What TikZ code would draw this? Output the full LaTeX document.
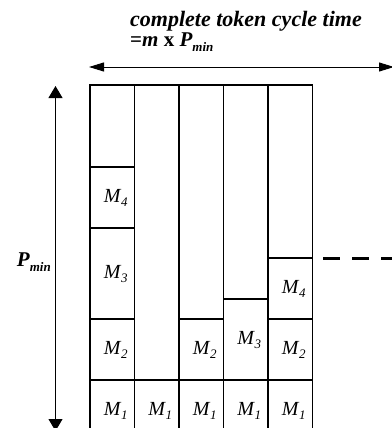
\documentclass[tikz,border=0pt]{standalone}
\usepackage{fontspec}
\setmainfont{Liberation Serif}
\usetikzlibrary{arrows.meta}
% message label with a lowered subscript
\newcommand{\msg}[1]{\textit{M}\kern-0.5pt\raisebox{-0.5ex}{\fontsize{13}{13}\selectfont\textit{#1}}}
\newcommand{\pmin}{\textbf{\textit{P}\raisebox{-0.5ex}{\fontsize{13}{13}\selectfont\textit{min}}}}

\begin{document}
\begin{tikzpicture}[x=1pt,y=-1pt,
  slot/.style={line width=1.4pt},
  lbl/.style={font=\fontsize{20}{20}\selectfont, inner sep=0pt, xshift=3.5pt},
  hspan/.style={line width=1pt,{Triangle[width=9pt,length=15pt]}-{Triangle[width=9pt,length=15pt]}},
  vspan/.style={line width=1pt,{Triangle[width=14pt,length=12pt]}-{Triangle[width=14pt,length=12pt]}}]
  \useasboundingbox (0,0) rectangle (391,428);

  % column outlines
  \draw[slot] (90,430) -- (90,85) -- (312.5,85) -- (312.5,430);
  \foreach \x in {134.5,179,223.5,268}{
    \draw[slot] (\x,85) -- (\x,430);
  }

  % slot borders, column by column
  \foreach \x/\y in {90/167,90/228,90/319,90/380,134.5/380,179/319,179/380,
                     223.5/299,223.5/380,268/258,268/319,268/380}{
    \draw[slot] (\x,\y) -- ++(44.5,0);
  }

  % messages in the slots
  \foreach \n/\x/\y/\m in {a4/112.25/198/4,a3/112.25/274/3,a2/112.25/350/2,a1/112.25/411/1,
                           b1/156.75/411/1,
                           c2/201.25/350/2,c1/201.25/411/1,
                           d3/245.75/340/3,d1/245.75/411/1,
                           e4/290.25/289/4,e2/290.25/350/2,e1/290.25/411/1}{
    \node[lbl] (\n) at (\x,\y) {\msg{\m}};
  }

  % cycle time over all columns
  \coordinate (cl) at (89,67);
  \coordinate (cr) at (394,67);
  \draw[hspan] (cl) -- (cr);
  \node[font=\fontsize{22}{22}\selectfont\bfseries\itshape, anchor=base west, inner sep=0pt]
    (title) at (130,27) {complete token cycle time};
  \node[font=\fontsize{21}{21}\selectfont\bfseries, anchor=base west, inner sep=0pt]
    (cycle) at (130,47) {=\textit{m} x \textit{P}\raisebox{-0.5ex}{\fontsize{13}{13}\selectfont\textit{min}}};

  % period on the left
  \coordinate (pt) at (55.5,86);
  \coordinate (pb) at (55.5,431);
  \draw[vspan] (pt) -- (pb);
  \node[font=\fontsize{21}{21}\selectfont, anchor=east, inner sep=0pt] (period) at (51,262) {\pmin};

  % continues to the next cycle
  \coordinate (dl) at (323,258);
  \coordinate (dr) at (400,258);
  \draw[line width=3pt, dash pattern=on 17pt off 12pt] (dl) -- (dr);
\end{tikzpicture}
\end{document}
